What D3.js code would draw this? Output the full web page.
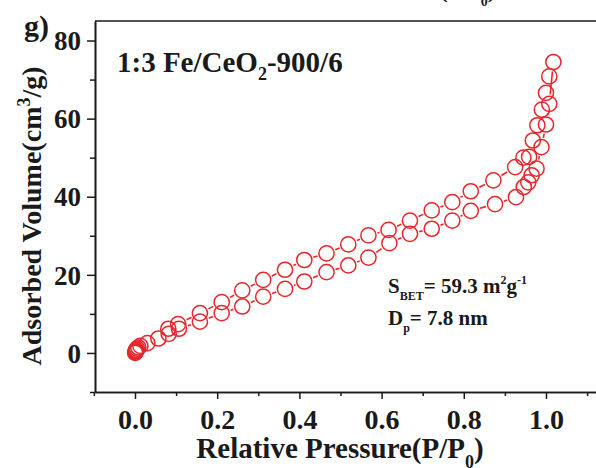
<!DOCTYPE html>
<html>
<head>
<meta charset="utf-8">
<script src="https://cdn.jsdelivr.net/npm/d3@7"></script>
<style>
  html, body { margin: 0; padding: 0; background: #fff; }
  svg { display: block; font-family: "Liberation Serif", "Times New Roman", serif; font-weight: bold; }
</style>
</head>
<body>
<svg id="chart" width="596" height="468"></svg>
<script>
// N2 isotherm, adsorption branch: relative pressure P/P0 and adsorbed volume (cm3/g)
const adsP = [0.0005, 0.001, 0.0015, 0.002, 0.003, 0.005, 0.008, 0.013, 0.03, 0.057, 0.082, 0.107, 0.158, 0.211, 0.261, 0.312, 0.365, 0.412, 0.466, 0.519, 0.568, 0.619, 0.669, 0.722, 0.772, 0.817, 0.876, 0.927, 0.946, 0.957, 0.965, 0.977, 0.989, 1.0, 1.008, 1.018];
const adsV = [0.0, 0.2, 0.4, 0.6, 0.8, 1.1, 1.4, 1.8, 2.5, 3.7, 4.9, 6.2, 8.0, 10.2, 11.9, 14.4, 16.4, 18.3, 20.7, 22.4, 24.4, 28.1, 30.5, 31.8, 33.9, 36.4, 38.1, 39.9, 42.5, 43.7, 45.5, 47.2, 52.7, 58.5, 63.8, 74.5];

// Desorption branch
const desP = [1.008, 1.0, 0.99, 0.979, 0.968, 0.959, 0.945, 0.925, 0.872, 0.817, 0.772, 0.722, 0.669, 0.617, 0.568, 0.519, 0.466, 0.412, 0.365, 0.312, 0.261, 0.211, 0.158, 0.105, 0.081];
const desV = [70.8, 66.6, 62.3, 58.3, 54.4, 50.2, 50.0, 47.6, 44.2, 41.4, 38.6, 36.5, 33.9, 31.5, 30.1, 27.8, 25.5, 23.8, 21.3, 18.7, 16.0, 13.0, 10.2, 7.4, 6.2];

// Axis ticks
const xMajor = [0, 0.2, 0.4, 0.6, 0.8, 1.0];
const xMinor = [-0.1, 0.1, 0.3, 0.5, 0.7, 0.9, 1.1];
const yMajor = [0, 20, 40, 60, 80];
const yMinor = [-10, 10, 30, 50, 70];

const RED = "#e8262b";
const INK = "#1a1a1a";

const svg = d3.select("#chart");
const W = 596;

const x = d3.scaleLinear().domain([-0.0973, 1.16]).range([95, 95 + 1.2573 * 411]);
const y = d3.scaleLinear().domain([-10, 85]).range([392, 21]);

// Frame: top edge (right edge lies outside the view)
svg.append("line")
  .attr("x1", x.range()[0]).attr("x2", W + 5)
  .attr("y1", y(85)).attr("y2", y(85))
  .attr("stroke", INK).attr("stroke-width", 1.6);

// Axes
function styleAxis(g) {
  g.selectAll("path.domain").attr("stroke", INK).attr("stroke-width", 1.6);
  g.selectAll(".tick line").attr("stroke", INK).attr("stroke-width", 1.5);
}

const yAxis = svg.append("g").attr("transform", `translate(${x.range()[0]},0)`)
  .call(d3.axisLeft(y).tickValues(yMajor).tickSize(8).tickSizeOuter(0).tickPadding(6).tickFormat(d3.format("d")))
  .call(styleAxis);
yAxis.selectAll(".tick text")
  .attr("font-family", "Liberation Serif, serif").attr("font-weight", "bold")
  .attr("font-size", 27).attr("fill", INK).attr("dy", "0.34em");
svg.append("g").attr("transform", `translate(${x.range()[0]},0)`)
  .call(d3.axisLeft(y).tickValues(yMinor).tickSize(5).tickSizeOuter(0).tickFormat(""))
  .call(styleAxis);

const xAxis = svg.append("g").attr("transform", `translate(0,${y(-10)})`)
  .call(d3.axisBottom(x).tickValues(xMajor).tickSize(7).tickSizeOuter(0).tickFormat(d3.format(".1f")))
  .call(styleAxis);
xAxis.selectAll(".tick text")
  .attr("font-family", "Liberation Serif, serif").attr("font-weight", "bold")
  .attr("font-size", 28).attr("fill", INK).attr("y", 37).attr("dy", 0);
svg.append("g").attr("transform", `translate(0,${y(-10)})`)
  .call(d3.axisBottom(x).tickValues(xMinor).tickSize(4).tickSizeOuter(0).tickFormat(""))
  .call(styleAxis);

// Series: connecting line with gaps around the symbols, then open circles
const R = 7.6, GAP = 1.8;
function drawSeries(px, vy) {
  const pts = px.map((p, i) => [x(p), y(vy[i])]);
  const segs = [];
  for (let i = 0; i < pts.length - 1; i++) {
    const [x1, y1] = pts[i], [x2, y2] = pts[i + 1];
    const d = Math.hypot(x2 - x1, y2 - y1);
    const cut = R + GAP;
    if (d > 2 * cut) {
      const ux = (x2 - x1) / d, uy = (y2 - y1) / d;
      segs.push([x1 + ux * cut, y1 + uy * cut, x2 - ux * cut, y2 - uy * cut]);
    }
  }
  svg.append("g").selectAll("line").data(segs).join("line")
    .attr("x1", d => d[0]).attr("y1", d => d[1])
    .attr("x2", d => d[2]).attr("y2", d => d[3])
    .attr("stroke", RED).attr("stroke-width", 1.6);
  svg.append("g").selectAll("circle").data(pts).join("circle")
    .attr("cx", d => d[0]).attr("cy", d => d[1]).attr("r", R)
    .attr("fill", "none").attr("stroke", RED).attr("stroke-width", 1.5);
}
drawSeries(adsP, adsV);
drawSeries(desP, desV);

// Axis titles
function pressureLabel(sel, subSize, subShift) {
  sel.append("tspan").text("Relative Pressure(P/P");
  sel.append("tspan").attr("font-size", subSize).attr("dy", subShift).text("0");
  sel.append("tspan").attr("dy", -subShift).text(")");
}
const xt = svg.append("text").attr("x", 340).attr("y", 458)
  .attr("text-anchor", "middle").attr("font-size", 29).attr("fill", INK);
pressureLabel(xt, 18, 10);

// Bottom edge of the neighbouring panel's title at the very top
const xtTop = svg.append("text").attr("x", 495).attr("y", -2)
  .attr("text-anchor", "end").attr("font-size", 22).attr("fill", INK);
pressureLabel(xtTop, 14, 8);

const yt = svg.append("text").attr("transform", "translate(41,216) rotate(-90)")
  .attr("text-anchor", "middle").attr("font-size", 28).attr("fill", INK);
yt.append("tspan").text("Adsorbed Volume(cm");
yt.append("tspan").attr("font-size", 18).attr("dy", -11).text("3");
yt.append("tspan").attr("dy", 11).text("/g)");

// Panel letter
svg.append("text").attr("x", 24).attr("y", 36).attr("font-size", 30).attr("fill", INK).text("g)");

// Sample name
const nm = svg.append("text").attr("x", 117).attr("y", 72).attr("font-size", 29).attr("fill", INK);
nm.append("tspan").text("1:3 Fe/CeO");
nm.append("tspan").attr("font-size", 18).attr("dy", 8).text("2");
nm.append("tspan").attr("dy", -8).text("-900/6");

// Surface area and pore size
const sb = svg.append("text").attr("x", 388).attr("y", 293).attr("font-size", 21).attr("fill", INK);
sb.append("tspan").text("S");
sb.append("tspan").attr("font-size", 12).attr("dy", 7).text("BET");
sb.append("tspan").attr("dy", -7).text("= 59.3 m");
sb.append("tspan").attr("font-size", 12).attr("dy", -9).text("2");
sb.append("tspan").attr("dy", 9).text("g");
sb.append("tspan").attr("font-size", 12).attr("dy", -9).text("-1");

const dp = svg.append("text").attr("x", 388).attr("y", 325).attr("font-size", 21).attr("fill", INK);
dp.append("tspan").text("D");
dp.append("tspan").attr("font-size", 12).attr("dy", 7).text("p");
dp.append("tspan").attr("dy", -7).text("= 7.8 nm");
</script>
</body>
</html>
